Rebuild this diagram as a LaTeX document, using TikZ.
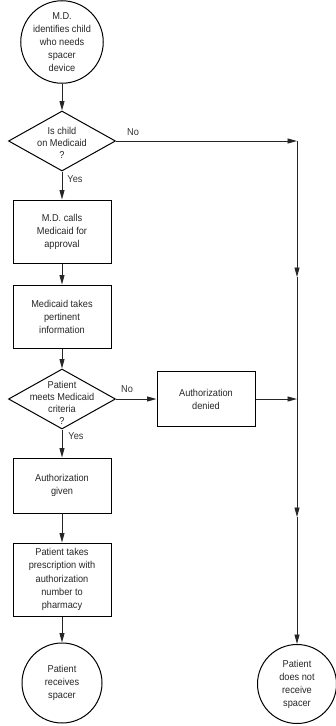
\documentclass[tikz,border=0pt]{standalone}
\usepackage{fontspec}
\setmainfont{Liberation Sans}[FakeStretch=0.92]
\usetikzlibrary{arrows.meta,shapes.geometric}
\begin{document}
\begin{tikzpicture}[x=1pt,y=-1pt,
 every node/.style={font=\fontsize{10}{13}\selectfont, text=black!85},
 box/.style={draw=black, line width=1pt, minimum width=98, inner sep=0pt, align=center},
 term/.style={circle, draw=black, line width=1pt, minimum size=80, inner sep=0pt, align=center},
 dia/.style={diamond, draw=black, line width=1pt, aspect=1.78, minimum width=107, minimum height=60, inner sep=0pt},
 dtext/.style={align=center, inner sep=0pt, font=\fontsize{10}{12}\selectfont},
 arr/.style={draw=black!85, line width=0.9pt, -{Triangle[length=9.5pt,width=5pt]}},
 lbl/.style={inner sep=0pt, font=\fontsize{10}{12}\selectfont, text=black!80}
]
\useasboundingbox (0,0) rectangle (335,726);
\node[term] (start) at (62,42) {M.D.\\identifies child\\who needs\\spacer\\device};
\node[dia] (d1) at (62,141) {};
\node[dtext] (d1t) at (62,143) {Is child\\on Medicaid\\?};
\node[box, minimum height=63] (b1) at (62,231.5) {M.D. calls\\Medicaid for\\approval};
\node[box, minimum height=63] (b2) at (62,316.5) {Medicaid takes\\pertinent\\information};
\node[dia] (d2) at (62,399) {};
\node[dtext] (d2t) at (62,403) {Patient\\meets Medicaid\\criteria\\?};
\node[box, minimum height=55] (den) at (206,399) {Authorization\\denied};
\node[box, minimum height=55] (giv) at (62,485.5) {Authorization\\given};
\node[box, minimum height=73, font=\fontsize{10}{13.3}\selectfont] (pre) at (62,579.5) {Patient takes\\prescription with\\authorization\\number to\\pharmacy};
\node[term] (end1) at (62,683) {Patient\\receives\\spacer};
\node[term, minimum size=79] (end2) at (297,684) {Patient\\does not\\receive\\spacer};

\coordinate (c1) at (297,141);
\coordinate (m1) at (297,277);
\coordinate (m2) at (297,517);
\coordinate (j) at (297,399);

\draw[arr] (start) -- (d1);
\draw[arr] (d1) -- (b1);
\draw[arr] (b1) -- (b2);
\draw[arr] (b2) -- (d2);
\draw[arr] (d2) -- (giv);
\draw[arr] (giv) -- (pre);
\draw[arr] (pre) -- (end1);
\draw[arr] (d1.east) -- (c1);
\draw[arr] (c1) -- (m1);
\draw[arr] (m1) -- (m2);
\draw[arr] (m2) -- (end2);
\draw[arr] (d2.east) -- (den.west);
\draw[arr] (den.east) -- (j);

\node[lbl] (no1) at (133,132) {No};
\node[lbl] (yes1) at (75,179) {Yes};
\node[lbl] (no2) at (127,389) {No};
\node[lbl] (yes2) at (76,436) {Yes};
\end{tikzpicture}
\end{document}
